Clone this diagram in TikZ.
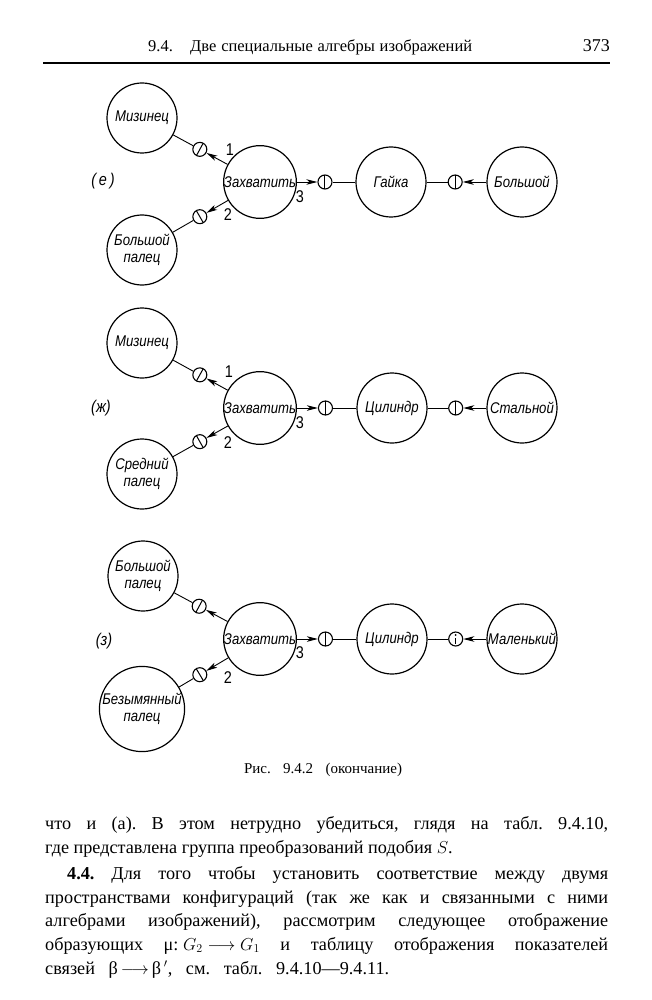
\documentclass[tikz,border=0pt]{standalone}
\usepackage{fontspec}
\setmainfont{Liberation Serif}
\newfontfamily\lab[FakeStretch=0.85]{Liberation Sans}
\usetikzlibrary{calc,arrows.meta}
\frenchspacing
\begin{document}
\begin{tikzpicture}[x=1pt,y=-1pt,
  nd/.style={circle,draw,line width=1.2pt,minimum size=70pt,inner sep=0pt,align=center,
             font=\lab\itshape\fontsize{15.5}{17}\selectfont},
  mk/.style={circle,draw,line width=1.1pt,minimum size=14pt,inner sep=0pt},
  cn/.style={line width=0.9pt},
  ar/.style={line width=0.9pt,-{Stealth[length=11pt,width=5.5pt,inset=3pt]}},
  bar/.style={line width=1pt},
  num/.style={font=\lab\fontsize{17}{17}\selectfont,inner sep=0pt},
  tag/.style={font=\lab\itshape\fontsize{17}{17}\selectfont,inner sep=0pt},
  body/.style={anchor=base west,inner sep=0pt,font=\fontsize{18.2}{22}\selectfont},
]
\fill[white] (0,0) rectangle (652,1000);
\useasboundingbox (0,0) rectangle (652,1000);

% header
\node[anchor=base west,inner sep=0pt,font=\fontsize{16.5}{18}\selectfont] (h1) at (148,52) {9.4.};
\node[anchor=base west,inner sep=0pt,font=\fontsize{16.5}{18}\selectfont] (h2) at (190,52) {\makebox[282pt][s]{Две специальные алгебры изображений}};
\node[anchor=base east,inner sep=0pt,font=\fontsize{18}{18}\selectfont] (h3) at (610,52) {373};
\coordinate (r1) at (43,63);
\coordinate (r2) at (610,63);
\draw[line width=1.3pt] (r1) -- (r2);

% ---------- (e) ----------
\node[tag] (te) at (103,181) {(\,е\,)};
\node[nd] (Z1) at (260,182) {Захватить};
\node[nd] (M1) at (142,118) {Мизинец};
\node[nd] (B1) at (142,250) {Большой\\палец};
\node[nd] (G1) at (391,182) {Гайка};
\node[nd] (O1) at (522,182) {Большой};
\node[mk] (a1) at ($(M1)!0.49!(Z1)$) {};
\node[mk] (b1) at ($(B1)!0.49!(Z1)$) {};
\node[mk] (c1) at ($(Z1)!0.496!(G1)$) {};
\node[mk] (d1) at ($(G1)!0.49!(O1)$) {};
\draw[bar] ($(a1)!7pt!90:(Z1)$) -- ($(a1)!7pt!-90:(Z1)$);
\draw[bar] ($(b1)!7pt!90:(Z1)$) -- ($(b1)!7pt!-90:(Z1)$);
\draw[bar] ($(c1)!7pt!90:(G1)$) -- ($(c1)!7pt!-90:(G1)$);
\draw[bar] ($(d1)!7pt!90:(O1)$) -- ($(d1)!7pt!-90:(O1)$);
\draw[cn] (M1) -- (a1);
\draw[cn] (B1) -- (b1);
\draw[cn] (c1) -- (G1);
\draw[cn] (G1) -- (d1);
\draw[ar] (Z1) -- (a1);
\draw[ar] (Z1) -- (b1);
\draw[ar] (Z1) -- (c1);
\draw[ar] (O1) -- (d1);
\node[num] (n11) at (230,150) {1};
\node[num] (n12) at (228,215) {2};
\node[num] (n13) at (300,197) {3};

% ---------- (zh) ----------
\node[tag] (tz) at (101,408) {(ж)};
\node[nd] (Z2) at (260,408) {Захватить};
\node[nd] (M2) at (142,343) {Мизинец};
\node[nd] (S2) at (142,474) {Средний\\палец};
\node[nd] (C2) at (392,408) {Цилиндр};
\node[nd] (O2) at (522,408) {Стальной};
\node[mk] (a2) at ($(M2)!0.49!(Z2)$) {};
\node[mk] (b2) at ($(S2)!0.49!(Z2)$) {};
\node[mk] (c2) at ($(Z2)!0.496!(C2)$) {};
\node[mk] (d2) at ($(C2)!0.49!(O2)$) {};
\draw[bar] ($(a2)!7pt!90:(Z2)$) -- ($(a2)!7pt!-90:(Z2)$);
\draw[bar] ($(b2)!7pt!90:(Z2)$) -- ($(b2)!7pt!-90:(Z2)$);
\draw[bar] ($(c2)!7pt!90:(C2)$) -- ($(c2)!7pt!-90:(C2)$);
\draw[bar] ($(d2)!7pt!90:(O2)$) -- ($(d2)!7pt!-90:(O2)$);
\draw[cn] (M2) -- (a2);
\draw[cn] (S2) -- (b2);
\draw[cn] (c2) -- (C2);
\draw[cn] (C2) -- (d2);
\draw[ar] (Z2) -- (a2);
\draw[ar] (Z2) -- (b2);
\draw[ar] (Z2) -- (c2);
\draw[ar] (O2) -- (d2);
\node[num] (n21) at (229,372) {1};
\node[num] (n22) at (228,443) {2};
\node[num] (n23) at (300,423) {3};

% ---------- (z) ----------
\node[tag] (t3) at (104,641) {(з)};
\node[nd] (Z3) at (260,639) {Захватить};
\node[nd] (B3) at (143,576) {Большой\\палец};
\node[nd] (N3) at (142,709) {Безымянный\\палец};
\node[nd] (C3) at (392,639) {Цилиндр};
\node[nd] (O3) at (522,639) {Маленький};
\node[mk] (a3) at ($(B3)!0.48!(Z3)$) {};
\node[mk] (b3) at ($(N3)!0.49!(Z3)$) {};
\node[mk] (c3) at ($(Z3)!0.496!(C3)$) {};
\node[mk] (d3) at ($(C3)!0.49!(O3)$) {};
\draw[bar] ($(a3)!7pt!90:(Z3)$) -- ($(a3)!7pt!-90:(Z3)$);
\draw[bar] ($(b3)!7pt!90:(Z3)$) -- ($(b3)!7pt!-90:(Z3)$);
\draw[bar] ($(c3)!7pt!90:(C3)$) -- ($(c3)!7pt!-90:(C3)$);
\draw[bar] ($(d3)+(0,-1)$) -- ($(d3)+(0,5)$);
\fill ($(d3)+(0,-4)$) circle (1pt);
\draw[cn] (B3) -- (a3);
\draw[cn] (N3) -- (b3);
\draw[cn] (c3) -- (C3);
\draw[cn] (C3) -- (d3);
\draw[ar] (Z3) -- (a3);
\draw[ar] (Z3) -- (b3);
\draw[ar] (Z3) -- (c3);
\draw[ar] (O3) -- (d3);
\node[num] (n32) at (228,678) {2};
\node[num] (n33) at (300,653) {3};

% caption
\node[inner sep=0pt,font=\fontsize{15}{16}\selectfont] (cap) at (323,770) {\makebox[158pt][s]{Рис. 9.4.2 (окончание)}};

% body text
\node[body] (l1) at (45,829) {\makebox[563pt][s]{что и (а). В этом нетрудно убедиться, глядя на табл. 9.4.10,}};
\node[body] (l2) at (45,853) {где представлена группа преобразований подобия \(S\).};
\node[body] (l3) at (67,879) {\makebox[541pt][s]{\textbf{4.4.} Для того чтобы установить соответствие между двумя}};
\node[body] (l4) at (45,903) {\makebox[563pt][s]{пространствами конфигураций (так же как и связанными с ними}};
\node[body] (l5) at (45,926) {\makebox[563pt][s]{алгебрами изображений), рассмотрим следующее отображение}};
\node[body] (l6) at (45,950) {\makebox[563pt][s]{образующих \mbox{μ: \(G_2\longrightarrow G_1\)} и таблицу отображения показателей}};
\node[body] (l7) at (45,974) {\makebox[344pt][s]{связей \mbox{β\,\(\longrightarrow\)\,β\(\,'\),} см. табл. 9.4.10—9.4.11.}};
\end{tikzpicture}
\end{document}
